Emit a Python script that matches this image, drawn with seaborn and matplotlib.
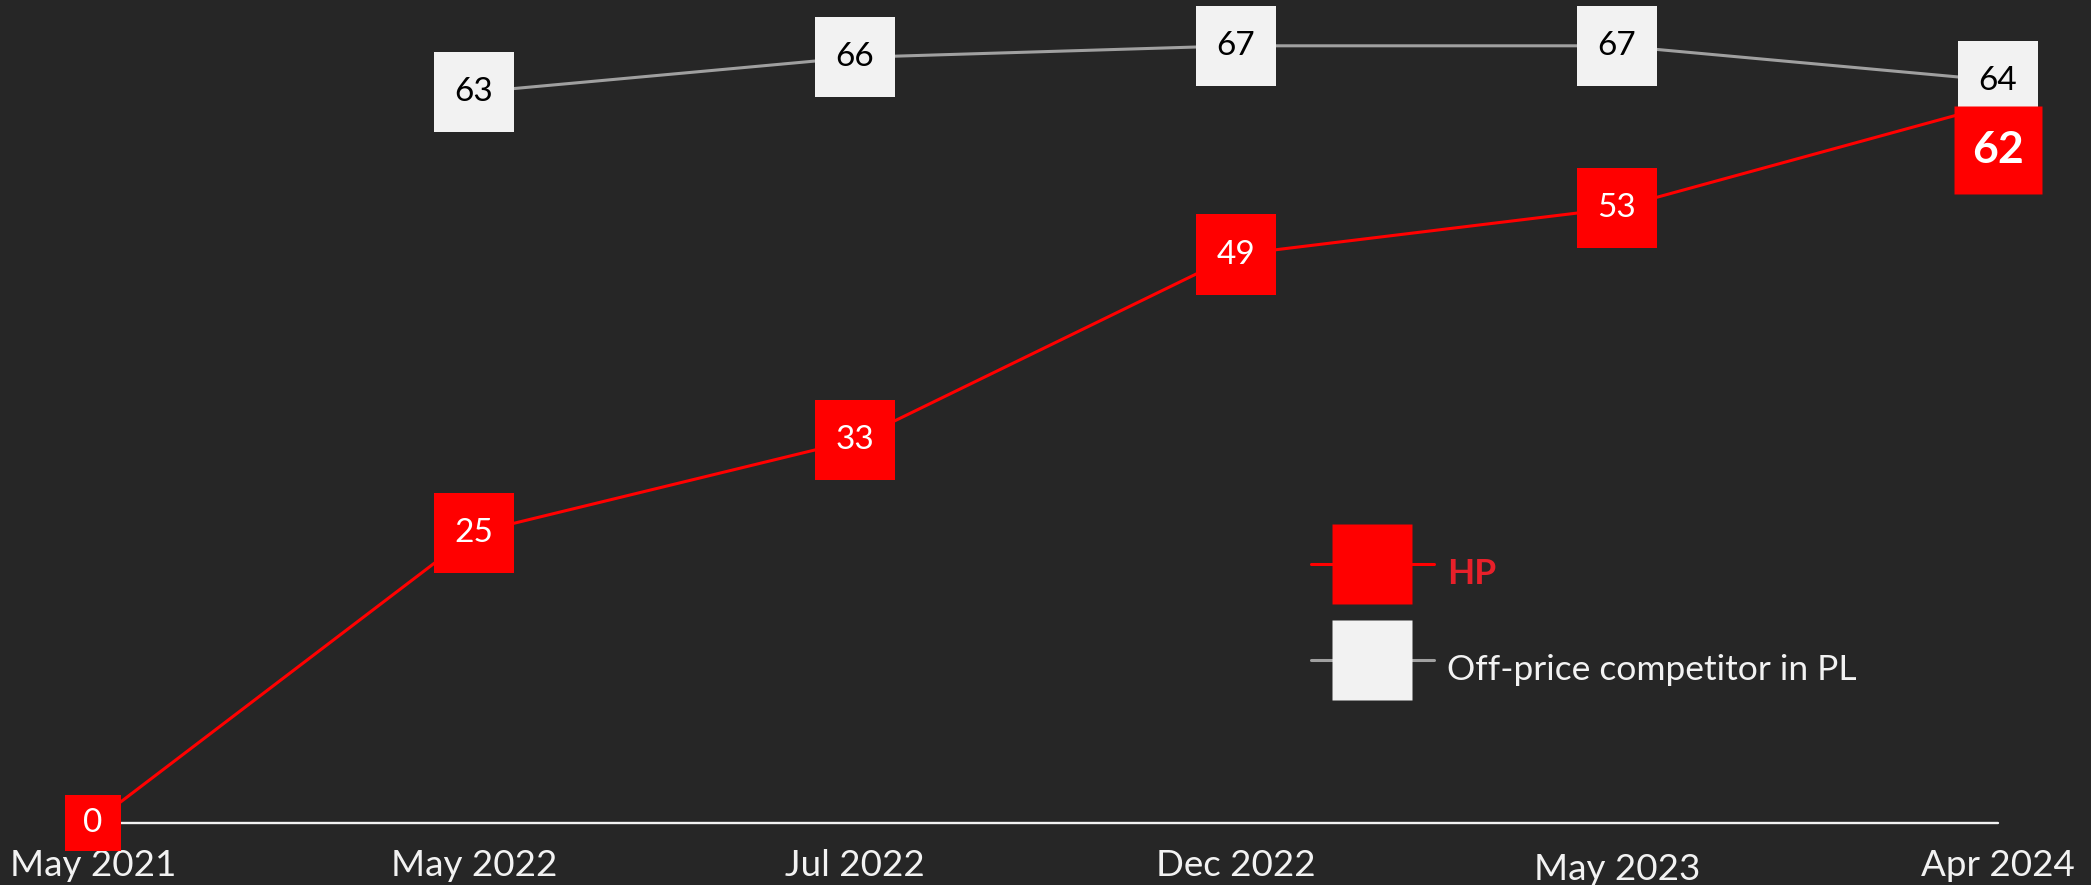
import numpy as np
import pandas as pd
import matplotlib.pyplot as plt
import matplotlib.transforms as mtransforms
from matplotlib.lines import Line2D
import seaborn as sns

# --- DATA ---
periods = ['May 2021', 'May 2022', 'Jul 2022', 'Dec 2022', 'May 2023', 'Apr 2024']
hp = [0, 25, 33, 49, 53, 62]
competitor = [np.nan, 63, 66, 67, 67, 64]

BG = '#262626'
RED = '#FF0000'
BOX_GREY = '#F2F2F2'
LINE_GREY = '#A0A0A0'
TXT = '#F2F2F2'

sns.set_theme(style='dark', rc={'figure.facecolor': BG, 'axes.facecolor': BG})
plt.rcParams['font.family'] = ['Lato', 'DejaVu Sans']

df = pd.DataFrame({'pos': np.arange(len(periods)), 'period': periods,
                   'HP': hp, 'Competitor': competitor})

fig = plt.figure(figsize=(20.91, 8.85), dpi=100)
ax = fig.add_axes([0, 62 / 885, 1, 823 / 885])

# --- LINES ---
sns.lineplot(data=df, x='pos', y='Competitor', color=LINE_GREY, lw=2.2, ax=ax, zorder=2)
sns.lineplot(data=df, x='pos', y='HP', color=RED, lw=2.2, ax=ax, zorder=2.5)

# baseline
ax.plot([0, len(periods) - 1], [0, 0], color=TXT, lw=1.7, zorder=1.5, clip_on=False)

# --- BOXES: competitor ---
comp = df.dropna(subset=['Competitor'])
ax.scatter(comp['pos'], comp['Competitor'], marker='s', s=57.6 ** 2,
           color=BOX_GREY, linewidths=0, zorder=3, clip_on=False)
for x, v in zip(comp['pos'], comp['Competitor']):
    ax.text(x, v, f'{v:.0f}', ha='center', va='center', fontsize=24,
            color='black', zorder=3.5)

# --- BOXES: HP (last one shifted down so it doesn't hide the competitor box) ---
sizes = [40, 58, 58, 58, 58]
ax.scatter(df['pos'][:5], df['HP'][:5], marker='s', s=np.square(sizes),
           color=RED, linewidths=0, zorder=5, clip_on=False)
for x, v in zip(df['pos'][:5], df['HP'][:5]):
    ax.text(x, v, f'{v}', ha='center', va='center', fontsize=24,
            color='white', zorder=5.5)

shift = mtransforms.offset_copy(ax.transData, fig=fig, x=0, y=-46, units='dots')
ax.plot([df['pos'].iloc[-1]], [df['HP'].iloc[-1]], 's', ms=64, color=RED,
        mec='none', transform=shift, zorder=6, clip_on=False)
ax.text(df['pos'].iloc[-1], df['HP'].iloc[-1], f"{df['HP'].iloc[-1]}",
        ha='center', va='center', fontsize=32, fontweight='bold',
        color='white', transform=shift, zorder=6.5)

# --- AXES ---
ax.set_xlim(-93 / 381, 5 + 93 / 381)
ax.set_ylim(0, 823 / 11.6)
ax.set_xticks(df['pos'], periods)
ax.set_yticks([])
ax.tick_params(axis='x', length=0, pad=18.5, labelsize=26.5, labelcolor=TXT)
ax.set_xlabel('')
ax.set_ylabel('')
for s in ax.spines.values():
    s.set_visible(False)

lab = ax.get_xticklabels()[4]
lab.set_transform(lab.get_transform() +
                  mtransforms.ScaledTranslation(0, -4 / 100, fig.dpi_scale_trans))

# --- LEGEND ---
handles = [Line2D([], [], color=RED, lw=2.2, marker='s', ms=58, mec='none'),
           Line2D([], [], color=LINE_GREY, lw=2.2, marker='s', ms=58,
                  mfc=BOX_GREY, mec='none')]
leg = ax.legend(handles, ['HP', 'Off-price competitor in PL'], loc='center left',
                bbox_to_anchor=(1311 / 2091, 1 - 622 / 885),
                bbox_transform=fig.transFigure, frameon=False, fontsize=23,
                handlelength=3.85, handleheight=2.5, handletextpad=0.4,
                labelspacing=1.15, borderpad=0, borderaxespad=0)
leg.get_texts()[0].set_color('#E8202A')
leg.get_texts()[0].set_fontweight('bold')
leg.get_texts()[1].set_color(TXT)
for t in leg.get_texts():
    t.set_fontsize(25.5)

fig.savefig('out.png', dpi=100, facecolor=BG)
